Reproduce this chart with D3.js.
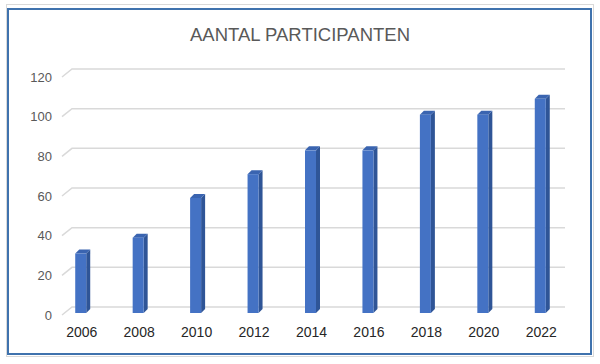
<!DOCTYPE html>
<html><head><meta charset="utf-8">
<script src="https://cdn.jsdelivr.net/npm/d3@7"></script>
<style>body{margin:0;background:#fff}svg{display:block}</style>
</head><body>
<script>
const categories = ["2006","2008","2010","2012","2014","2016","2018","2020","2022"];
const values = [30, 38, 58, 70, 82, 82, 100, 100, 108];
const yTicks = [0, 20, 40, 60, 80, 100, 120];
const title = "AANTAL PARTICIPANTEN";

const W = 600, H = 364;
const svg = d3.select("body").append("svg").attr("width", W).attr("height", H);

// frame
svg.append("rect").attr("x", 6.5).attr("y", 4.5).attr("width", 587).attr("height", 352)
  .attr("fill", "#fff").attr("stroke", "#d9d9d9").attr("stroke-width", 1);
svg.append("rect").attr("x", 8).attr("y", 9).attr("width", 583).attr("height", 345)
  .attr("fill", "#fff").attr("stroke", "#3f72ad").attr("stroke-width", 2);

svg.append("text").attr("x", 300).attr("y", 41).attr("text-anchor", "middle")
  .attr("font-family", "Liberation Sans, Arial, sans-serif").attr("font-size", 18.5)
  .attr("fill", "#595959").text(title);

// scales (front plane)
const y = d3.scaleLinear().domain([0, 120]).range([315, 77]);
const x = d3.scaleBand().domain(categories).range([53, 570]).paddingInner(0).paddingOuter(0);
const dx = 10, dy = 8; // depth offset of back wall

// gridlines
const g = svg.append("g");
yTicks.forEach(t => {
  const yf = y(t), yb = y(t) - dy;
  g.append("path").attr("d", `M62,${yf}L${62+dx},${yb}L565,${yb}`)
    .attr("fill", "none").attr("stroke", "#d9d9d9").attr("stroke-width", 1.5);
});

// y labels
const yAxis = d3.axisLeft(y).tickValues(yTicks).tickSize(0).tickPadding(0);
const ya = svg.append("g").attr("transform", "translate(52,0)").call(yAxis);
ya.select(".domain").remove();
ya.selectAll("text").attr("font-family", "Liberation Sans, Arial, sans-serif")
  .attr("font-size", 13).attr("fill", "#595959");

// x labels
const xa = svg.append("g").attr("transform", "translate(0,327)")
  .call(d3.axisBottom(x).tickSize(0).tickPadding(0));
xa.select(".domain").remove();
xa.selectAll("text").attr("font-family", "Liberation Sans, Arial, sans-serif")
  .attr("font-size", 14).attr("fill", "#262626");

// bars (3D)
const bw = 11, bd = 4;
const by = v => y(v) - 2; // bar plane slightly behind front
const bars = svg.append("g");
categories.forEach((c, i) => {
  const cx = x(c) + x.bandwidth() / 2;
  const x0 = cx - bw / 2 - 1, x1 = x0 + bw;
  const yt = by(values[i]), yb = by(0);
  // side
  bars.append("path").attr("d", `M${x1},${yt}L${x1+bd},${yt-bd}L${x1+bd},${yb-bd}L${x1},${yb}Z`)
    .attr("fill", "#2f5597");
  // top
  bars.append("path").attr("d", `M${x0},${yt}L${x0+bd},${yt-bd}L${x1+bd},${yt-bd}L${x1},${yt}Z`)
    .attr("fill", "#3a64b0");
  // front
  bars.append("rect").attr("x", x0).attr("y", yt).attr("width", bw).attr("height", yb - yt)
    .attr("fill", "#4472c4");
});
</script>
</body></html>
